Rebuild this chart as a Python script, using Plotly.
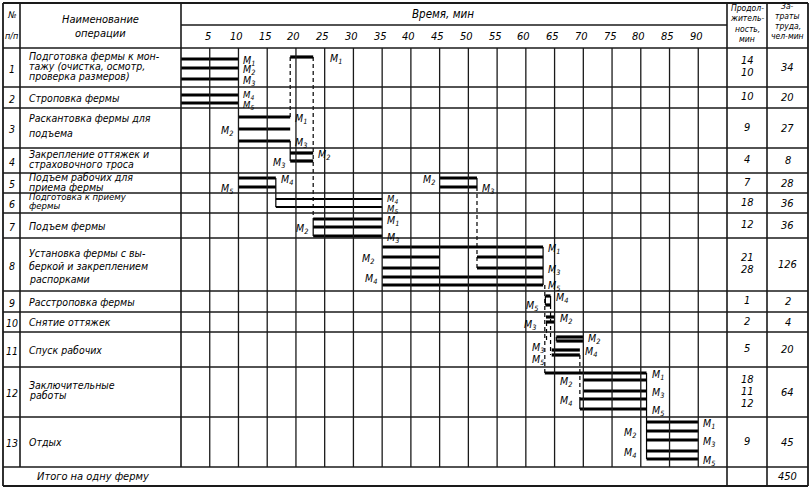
import plotly.graph_objects as go

# ---------------- data ----------------
ROW_NUMBERS = [str(i) for i in range(1, 14)]
OPERATIONS = [
    ["Подготовка фермы к мон-", "тажу (очистка, осмотр,", "проверка размеров)"],
    ["Строповка фермы"],
    ["Раскантовка фермы для", "подъема"],
    ["Закрепление оттяжек и", "страховочного троса"],
    ["Подъем рабочих для", "приема фермы"],
    ["Подготовка к приему", "фермы"],
    ["Подъем фермы"],
    ["Установка фермы с вы-", "беркой и закреплением", "распорками"],
    ["Расстроповка фермы"],
    ["Снятие оттяжек"],
    ["Спуск рабочих"],
    ["Заключительные", "работы"],
    ["Отдых"],
]
DURATION = [["14", "10"], ["10"], ["9"], ["4"], ["7"], ["18"], ["12"],
            ["21", "28"], ["1"], ["2"], ["5"], ["18", "11", "12"], ["9"]]
LABOR = ["34", "20", "27", "8", "28", "36", "36", "126", "2", "4", "20", "64", "45"]
TOTAL_TEXT = "Итого на одну ферму"
TOTAL_LABOR = "450"
TIME_TICKS = list(range(5, 95, 5))

# work segments of the workers (row of the table, worker, start min, end min)
BAR_ROW = [1, 1, 1, 1,
           2, 2,
           3, 3, 3,
           4, 4,
           5, 5, 5, 5,
           6, 6,
           7, 7, 7,
           8, 8, 8, 8, 8, 8, 8,
           9, 9,
           10, 10,
           11, 11, 11, 11,
           12, 12, 12, 12, 12,
           13, 13, 13, 13, 13]
BAR_WORKER = ["1", "2", "3", "1",
              "4", "5",
              "1", "2", "3",
              "2", "3",
              "4", "5", "2", "3",
              "4", "5",
              "1", "2", "3",
              "1", "2", "2", "3", "3", "4", "5",
              "4", "5",
              "2", "3",
              "2", "3", "4", "5",
              "1", "2", "3", "4", "5",
              "1", "2", "3", "4", "5"]
BAR_START = [0, 0, 0, 19,
             0, 0,
             10, 10, 10,
             19, 19,
             10, 10, 45, 45,
             16.5, 16.5,
             23, 23, 23,
             35, 35, 51.5, 35, 51.5, 35, 35,
             63.4, 63.4,
             63.5, 63.5,
             65.3, 65.3, 64.5, 64.5,
             63.3, 70, 70, 69.4, 69.4,
             81, 81, 81, 81, 81]
BAR_END = [10, 10, 10, 23,
           10, 10,
           19, 19, 19,
           23, 23,
           16.5, 16.5, 51.5, 51.5,
           35, 35,
           35, 35, 35,
           63, 45, 63, 45, 63, 63, 63,
           64.3, 64.3,
           65, 65,
           70, 70, 69.4, 69.4,
           81, 81, 81, 81, 81,
           90, 90, 90, 90, 90]

# transfers of workers: (minute, from row, from worker, to row, to worker)
LINK_SOLID = [(19, 3, "3", 4, "3"), (16.5, 5, "4", 6, "5"), (51.5, 5, "2", 5, "3"),
              (23, 7, "1", 7, "3"), (63, 8, "1", 8, "5"),
              (63.4, 9, "4", 9, "5"), (64.3, 9, "4", 9, "5"),
              (65.3, 11, "2", 11, "3"),
              (69.4, 12, "4", 12, "5"), (81, 12, "1", 13, "5")]
LINK_DASHED = [(19, 1, "1", 3, "1"), (23, 1, "1", 7, "1"), (51.5, 5, "3", 8, "3"),
               (63.3, 8, "5", 12, "1"), (64.3, 9, "5", 11, "5"),
               (63.6, 10, "3", 11, "3"), (69.4, 11, "5", 12, "4")]

# ---------------- layout (pixels) ----------------
W, H = 811, 488
T0_PX = 181.0
PX_PER_MIN = 546.0 / 95.0


def t_of(px):
    return (px - T0_PX) / PX_PER_MIN


TOP, HEAD_MID, HEAD_BOT, BOTTOM = 3, 25, 48, 486
ROW_EDGES = [48, 87, 108, 148, 173, 193, 213, 238, 291, 312, 332, 367, 417, 467]
X_L, X_NO, X_NAME, X_TEND, X_DUR, X_R = 3, 20, 181, 727, 767, 808

# vertical position of every segment line (px)
BAR_Y = [59, 68, 79, 57,
         95, 103,
         117, 129, 141,
         153, 161,
         178, 187, 178, 187,
         199, 207,
         219, 227, 236,
         247, 257, 257, 268, 268, 277, 285,
         296, 305,
         317, 322,
         337, 341, 350, 355,
         373, 380, 391, 399, 409,
         422, 431, 440, 451, 459]
BAR_LABEL = ["r", "r", "r", "r",
             "r", "r",
             "r", "l", "r",
             "r", "l",
             "r", "l", "l", "r",
             "r", "r",
             "r", "l", "r",
             "r", "l", "", "", "r", "l", "r",
             "r", "l",
             "r", "l",
             "r", "l", "r", "l",
             "r", "l", "r", "l", "r",
             "r", "l", "r", "l", "r"]
LABEL_GAP = {3: 15, 21: 6, 28: 5, 30: 8, 32: 10, 34: 6, 36: 9, 38: 6, 41: 9, 43: 9}
LABEL_DY = {28: -1, 30: 1, 32: 5, 34: 3, 26: -1, 4: -1, 5: 0.5, 15: -1, 16: 0.5}
LABEL_SMALL = {4, 5, 15, 16}
THIN_ROWS = {6}
# vertical spacing of the operation name lines per row (px)
NAME_STEP = [10, 0, 15, 10, 10, 9, 0, 13, 0, 0, 0, 10, 0]
NAME_SHIFT = [-2, 0, -3, -2, -1, -2, 0, 1, 0, 0, 0, -2, 0]
NAME_SIZE = [10.5, 10.5, 10.5, 10.5, 10.5, 9.5, 10.5, 10.5, 10.5, 10.5, 10.5, 10.5, 10.5]

INK = "#1a1a1a"
FONT = "Liberation Sans Narrow, DejaVu Sans Condensed, Liberation Sans, sans-serif"

fig = go.Figure()
shapes = []


def hline(y, x0px, x1px, w=1.4):
    shapes.append(dict(type="line", xref="x", yref="y", x0=t_of(x0px), x1=t_of(x1px),
                       y0=y, y1=y, line=dict(color=INK, width=w)))


def vline(xpx, y0, y1, w=1.4):
    shapes.append(dict(type="line", xref="x", yref="y", x0=t_of(xpx), x1=t_of(xpx),
                       y0=y0, y1=y1, line=dict(color=INK, width=w)))


# table frame
hline(TOP, X_L, X_R, 1.8)
hline(BOTTOM, X_L, X_R, 1.8)
vline(X_L, TOP, BOTTOM, 1.8)
vline(X_R, TOP, BOTTOM, 1.8)
hline(HEAD_MID, X_NAME, X_TEND)
for y in ROW_EDGES:
    hline(y, X_L, X_R, 1.6)
vline(X_NO, TOP, ROW_EDGES[-1], 1.6)
vline(X_NAME, TOP, ROW_EDGES[-1], 1.6)
vline(X_TEND, TOP, BOTTOM, 1.6)
vline(X_DUR, TOP, BOTTOM, 1.6)
for t in TIME_TICKS:
    shapes.append(dict(type="line", xref="x", yref="y", x0=t, x1=t, y0=HEAD_BOT,
                       y1=ROW_EDGES[-1], line=dict(color=INK, width=1.3)))


def bar_trace(idx_list, width):
    xs, ys = [], []
    for i in idx_list:
        xs += [BAR_START[i], BAR_END[i], None]
        ys += [BAR_Y[i], BAR_Y[i], None]
    return go.Scatter(x=xs, y=ys, mode="lines", line=dict(color="#000", width=width),
                      hoverinfo="skip", showlegend=False)


thick = [i for i in range(len(BAR_ROW)) if BAR_ROW[i] not in THIN_ROWS]
thin = [i for i in range(len(BAR_ROW)) if BAR_ROW[i] in THIN_ROWS]
fig.add_trace(bar_trace(thick, 3.2))
fig.add_trace(bar_trace(thin, 2.0))


def bar_y_at(t, row, worker):
    best, bd = None, 1e9
    for i in range(len(BAR_ROW)):
        if BAR_ROW[i] == row and BAR_WORKER[i] == worker:
            d = min(abs(BAR_START[i] - t), abs(BAR_END[i] - t))
            if d < bd:
                best, bd = BAR_Y[i], d
    return best


def link_trace(links, dash):
    xs, ys = [], []
    for t, r0, w0, r1, w1 in links:
        xs += [t, t, None]
        ys += [bar_y_at(t, r0, w0), bar_y_at(t, r1, w1), None]
    return go.Scatter(x=xs, y=ys, mode="lines",
                      line=dict(color="#000", width=1.2, dash=dash),
                      hoverinfo="skip", showlegend=False)


fig.add_trace(link_trace(LINK_SOLID, "solid"))
fig.add_trace(link_trace(LINK_DASHED, "4px,3px"))

ann = []


def text(xpx, y, s, size=10.5, anchor="center"):
    ann.append(dict(x=t_of(xpx), y=y, xref="x", yref="y", text="<i>" + s + "</i>", showarrow=False,
                    xanchor=anchor, yanchor="middle",
                    font=dict(family=FONT, size=size, color="#000")))


# header
text((X_L + X_NO) / 2, 15, "№", 9)
text((X_L + X_NO) / 2, 36, "п/п", 9)
text((X_NO + X_NAME) / 2, 19, "Наименование", 11)
text((X_NO + X_NAME) / 2, 33, "операции", 11)
text(443, 14, "Время, мин", 11.5)
for t in TIME_TICKS:
    ann.append(dict(x=t, y=36, xref="x", yref="y", text="<i>%d</i>" % t, showarrow=False,
                    xanchor="center", yanchor="middle", xshift=-2,
                    font=dict(family=FONT, size=11, color="#000")))
for y, s in zip([8, 18, 29, 39], ["Продол-", "житель-", "ность,", "мин"]):
    text((X_TEND + X_DUR) / 2, y, s, 8.5)
for y, s in zip([6, 16, 26, 36], ["За-", "траты", "труда,", "чел-мин"]):
    text((X_DUR + X_R) / 2, y, s, 8.5)

# rows
for r in range(13):
    top, bot = ROW_EDGES[r], ROW_EDGES[r + 1]
    mid = (top + bot) / 2
    text((X_L + X_NO) / 2, mid + 1, ROW_NUMBERS[r], 10.5)
    lines = OPERATIONS[r]
    n = len(lines)
    for k, s in enumerate(lines):
        y = mid + NAME_SHIFT[r] + (k - (n - 1) / 2) * NAME_STEP[r]
        text(X_NO + 7, y, s, NAME_SIZE[r], anchor="left")
    d = DURATION[r]
    m = len(d)
    for k, s in enumerate(d):
        y = mid - 1 + (k - (m - 1) / 2) * 12
        text((X_TEND + X_DUR) / 2, y, s, 11)
    text((X_DUR + X_R) / 2, mid, LABOR[r], 11)

text(35, (ROW_EDGES[-1] + BOTTOM) / 2, TOTAL_TEXT, 11, anchor="left")
text((X_DUR + X_R) / 2, (ROW_EDGES[-1] + BOTTOM) / 2, TOTAL_LABOR, 11)

# worker labels
for i, side in enumerate(BAR_LABEL):
    if not side:
        continue
    gap = LABEL_GAP.get(i, 3)
    lab = "<i>М<sub>%s</sub></i>" % BAR_WORKER[i]
    right = side == "r"
    ann.append(dict(x=BAR_END[i] if right else BAR_START[i], y=BAR_Y[i] + 1.5 + LABEL_DY.get(i, 0),
                    xref="x", yref="y",
                    text=lab, showarrow=False, xanchor="left" if right else "right",
                    yanchor="middle", xshift=gap if right else -gap,
                    font=dict(family=FONT, size=9.5 if i in LABEL_SMALL else 10.5, color="#000")))

fig.update_layout(
    width=W, height=H, margin=dict(l=0, r=0, t=0, b=0),
    paper_bgcolor="white", plot_bgcolor="white",
    shapes=shapes, annotations=ann, showlegend=False,
    xaxis=dict(range=[t_of(0), t_of(W)], visible=False, fixedrange=True),
    yaxis=dict(range=[H, 0], visible=False, fixedrange=True),
)
fig.write_html("out.html", config={"displayModeBar": False, "staticPlot": True},
               post_script="document.body.style.margin='0';document.body.style.overflow='hidden';")
